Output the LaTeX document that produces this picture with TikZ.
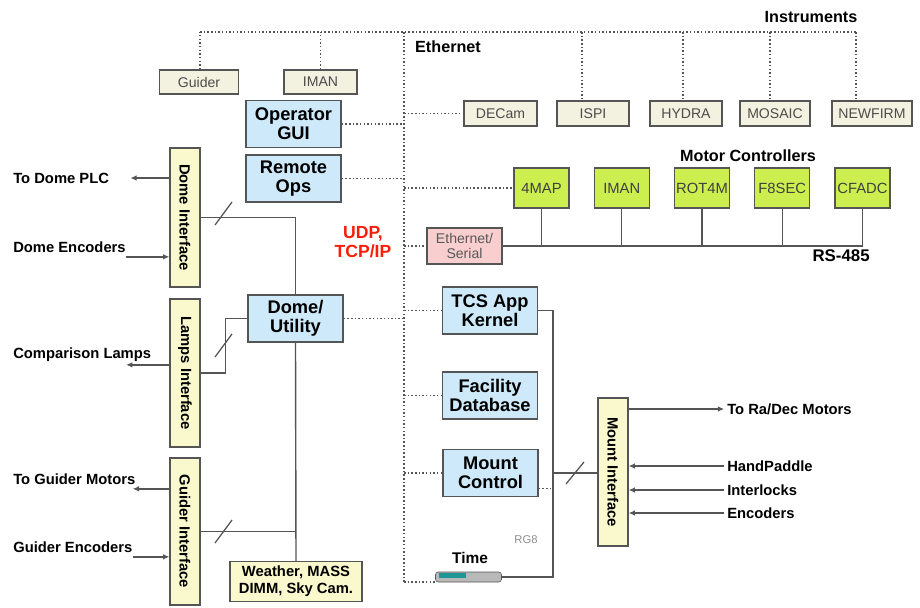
\documentclass[tikz,border=0pt]{standalone}
\usepackage{fontspec}
\setmainfont{Liberation Sans}
\usetikzlibrary{arrows.meta, positioning}
\definecolor{appblue}{RGB}{206,234,250}
\definecolor{instbeige}{RGB}{243,241,224}
\definecolor{ifyellow}{RGB}{250,249,206}
\definecolor{mcgreen}{RGB}{204,238,78}
\definecolor{serpink}{RGB}{248,206,206}
\definecolor{udpred}{RGB}{250,30,10}
\definecolor{clockteal}{RGB}{30,150,150}
\definecolor{wiregray}{RGB}{85,85,85}

\begin{document}
\begin{tikzpicture}[x=0.025cm, y=-0.025cm, >={Latex[length=4.5pt,width=4pt]},
  box/.style={draw=wiregray, line width=0.9pt, inner sep=0pt, align=center},
  appbox/.style={box, fill=appblue, minimum width=2.375cm, minimum height=1.175cm, font=\fontsize{13}{13.5}\selectfont\bfseries},
  instbox/.style={box, fill=instbeige, minimum height=0.6cm, text=black!70, font=\fontsize{10}{12}\selectfont},
  mcbox/.style={box, fill=mcgreen, minimum width=1.375cm, minimum height=1cm, text=black!75, font=\fontsize{10.5}{12}\selectfont},
  ifbox/.style={box, fill=ifyellow, minimum width=0.75cm},
  iftext/.style={rotate=-90, font=\fontsize{10.5}{12}\selectfont\bfseries, inner sep=0pt},
  lbl/.style={font=\fontsize{10.5}{12}\selectfont\bfseries, inner sep=0pt},
  head/.style={font=\fontsize{11.5}{13}\selectfont\bfseries, inner sep=0pt},
  enet/.style={wiregray, line width=1.1pt, dash pattern=on 1.1pt off 1.5pt},
  wire/.style={wiregray, line width=1pt},
  slash/.style={wiregray, line width=0.9pt}
]

  \useasboundingbox (0,0) rectangle (920,607);

  % Ethernet backbone
  \coordinate (ethtop) at (404,32);    % top of vertical run
  \coordinate (ethbot) at (404,582);   % bottom, feeds the clock
  \coordinate (bustl) at (200,32);     % left end of top bus
  \coordinate (bustr) at (856,32);     % right end of top bus
  \draw[enet] (bustl) -- (bustr);
  \draw[enet] (ethtop) -- (ethbot);

  % Headings
  \node[head] (instlbl) at (811,17) {Instruments};
  \node[head] (ethlbl) at (448,47) {Ethernet};
  \node[head] (mclbl) at (748,156) {Motor Controllers};
  \node[font=\fontsize{12.5}{13.5}\selectfont\bfseries, text=udpred, align=center, inner sep=0pt] (udp) at (363,242) {UDP,\\TCP/IP};

  % Guider and IMAN on the top bus
  \node[instbox, minimum width=1.975cm] (guider) at (199,82) {Guider};
  \node[instbox, minimum width=1.825cm] (imantop) at (320.5,82) {IMAN};
  \draw[enet] (bustl |- guider.north) -- (bustl);
  \draw[enet] (imantop.north) -- (imantop.north |- bustl);

  % Instruments
  \foreach \name/\cx/\w in {DECam/500.5/1.825, ISPI/593/1.8, HYDRA/686/1.8, MOSAIC/775/1.75, NEWFIRM/872/2.0}
    \node[instbox, minimum width=\w cm, minimum height=0.625cm] (\name) at (\cx,113.5) {\name};
  \foreach \name/\dx in {ISPI/582, HYDRA/683, MOSAIC/770, NEWFIRM/856} {
    \coordinate (drop) at (\dx,32);
    \draw[enet] (drop) -- (drop |- \name.north);
  }
  \draw[enet] (ethtop |- DECam.west) -- (DECam.west);

  % Application boxes
  \node[appbox] (gui) at (293.5,124) {Operator\\GUI};
  \node[appbox] (remote) at (293.5,178.5) {Remote\\Ops};
  \node[appbox] (dome) at (295.5,318.5) {Dome/\\Utility};
  \node[appbox] (tcs) at (490,310.5) {TCS App\\Kernel};
  \node[appbox] (facdb) at (490,395.5) {Facility\\Database};
  \node[appbox] (mount) at (490.5,473) {Mount\\Control};
  \foreach \b in {gui, remote, dome}
    \draw[enet] (\b.east) -- (\b.east -| ethtop);
  \foreach \b in {tcs, facdb, mount}
    \draw[enet] (\b.west -| ethtop) -- (\b.west);

  % Motor controllers on RS-485
  \foreach \name [count=\i] in {4MAP, IMAN, ROT4M, F8SEC, CFADC}
    \node[mcbox] (mc\i) at ({541.5+80.25*(\i-1)},188) {\name};
  \draw[enet] (ethtop |- mc1.west) -- (mc1.west);
  \node[box, fill=serpink, minimum width=1.875cm, minimum height=0.9cm, text=black!65, font=\fontsize{10}{11}\selectfont] (eser) at (464.5,246) {Ethernet/\\Serial};
  \draw[enet] (ethtop |- eser.west) -- (eser.west);
  \draw[wire] (eser.east) -- (mc5.south |- eser.east);
  \foreach \i in {1,...,5}
    \draw[wire] (mc\i.south) -- (mc\i.south |- eser.east);
  \node[head, anchor=east, font=\fontsize{12}{13}\selectfont\bfseries] (rs) at (870,256) {RS-485};

  % Left side interfaces
  \node[ifbox, minimum height=3.475cm] (domeif) at (185,217.5) {};
  \node[iftext] at (domeif) {Dome Interface};
  \node[ifbox, minimum height=3.7cm] (lampsif) at (185,373) {};
  \node[iftext] at (lampsif) {Lamps Interface};
  \node[ifbox, minimum height=3.675cm] (guiderif) at (185,531.5) {};
  \node[iftext] at (guiderif) {Guider Interface};

  \node[lbl, anchor=west] (domeplc) at (13,178) {To Dome PLC};
  \draw[wire,->] (domeif.west |- domeplc) -- ([xshift=15pt]domeplc.east);
  \node[lbl, anchor=west] (dencl) at (13,247) {Dome Encoders};
  \draw[wire,->] ([yshift=-7pt]dencl.east) -- ([yshift=-7pt]dencl.east -| domeif.west);
  \node[lbl, anchor=west] (lampl) at (13,355) {Comparison Lamps};
  \draw[wire,->] ([yshift=-7pt]lampl.east -| lampsif.west) -- ([yshift=-7pt,xshift=-18pt]lampl.east);
  \node[lbl, anchor=west] (gml) at (13,479) {To Guider Motors};
  \draw[wire,->] ([yshift=-7pt]gml.east -| guiderif.west) -- ([yshift=-7pt,xshift=-2pt]gml.east);
  \node[lbl, anchor=west] (gel) at (13,547) {Guider Encoders};
  \draw[wire,->] ([yshift=-7pt]gel.east) -- ([yshift=-7pt]gel.east -| guiderif.west);

  % Dome/Utility wiring
  \node[box, fill=ifyellow, minimum width=3.3cm, minimum height=1cm, font=\fontsize{10.5}{12}\selectfont\bfseries] (weather) at (296,581.5) {Weather, MASS\\DIMM, Sky Cam.};
  \draw[wire] (domeif.east) -| (dome.north);
  \draw[wire] (lampsif.east) -- ++(25,0) |- (dome.west);
  \draw[wire] (dome.south) -- (weather.north);
  \draw[wire] (guiderif.east) -- (guiderif.east -| dome.south);
  \draw[slash] (215,225) -- (232,202);
  \draw[slash] (215,357) -- (232,334);
  \draw[slash] (215,543) -- (232,520);

  % Mount side
  \node[ifbox, minimum width=0.75cm, minimum height=3.7cm] (mountif) at (613,472) {};
  \node[iftext] at (mountif) {Mount Interface};
  \node[lbl, anchor=west] (radec) at (727,409) {To Ra/Dec Motors};
  \draw[wire,->,shorten >=2pt] (mountif.east |- radec.west) -- (radec.west);
  \foreach \name/\y in {HandPaddle/466, Interlocks/490, Encoders/513} {
    \node[lbl, anchor=west] (\name) at (727,\y) {\name};
    \draw[wire,->,shorten <=2pt] (\name.west) -- (\name.west -| mountif.east);
  }

  % Time and kernel wiring
  \node[lbl, font=\fontsize{11}{12}\selectfont\bfseries] (timel) at (470,558) {Time};
  \node[draw=wiregray, fill=gray!55, rounded corners=2pt, minimum width=1.65cm, minimum height=0.25cm, inner sep=0pt] (clock) at (468.5,577) {};
  \fill[clockteal] ([xshift=3pt,yshift=-1.2pt]clock.north west) rectangle ++(19pt,-3.6pt);
  \draw[enet] (ethbot) -- (ethbot -| clock.west);
  \node[font=\fontsize{8}{9}\selectfont, text=black!45, inner sep=0pt] (rg8) at (526,540) {RG8};
  \coordinate (rg) at (553,473);   % vertical run to the clock
  \draw[wire] (tcs.east) -- (tcs.east -| rg) -- (rg |- clock.east) -- (clock.east);
  \draw[wire] (rg |- mount.east) -- (mountif.west |- mount.east);
  \draw[enet] ([yshift=-11pt]mount.east) -- ([yshift=-11pt]mount.east -| rg);
  \draw[slash] (566,484) -- (584,462);
\end{tikzpicture}
\end{document}
